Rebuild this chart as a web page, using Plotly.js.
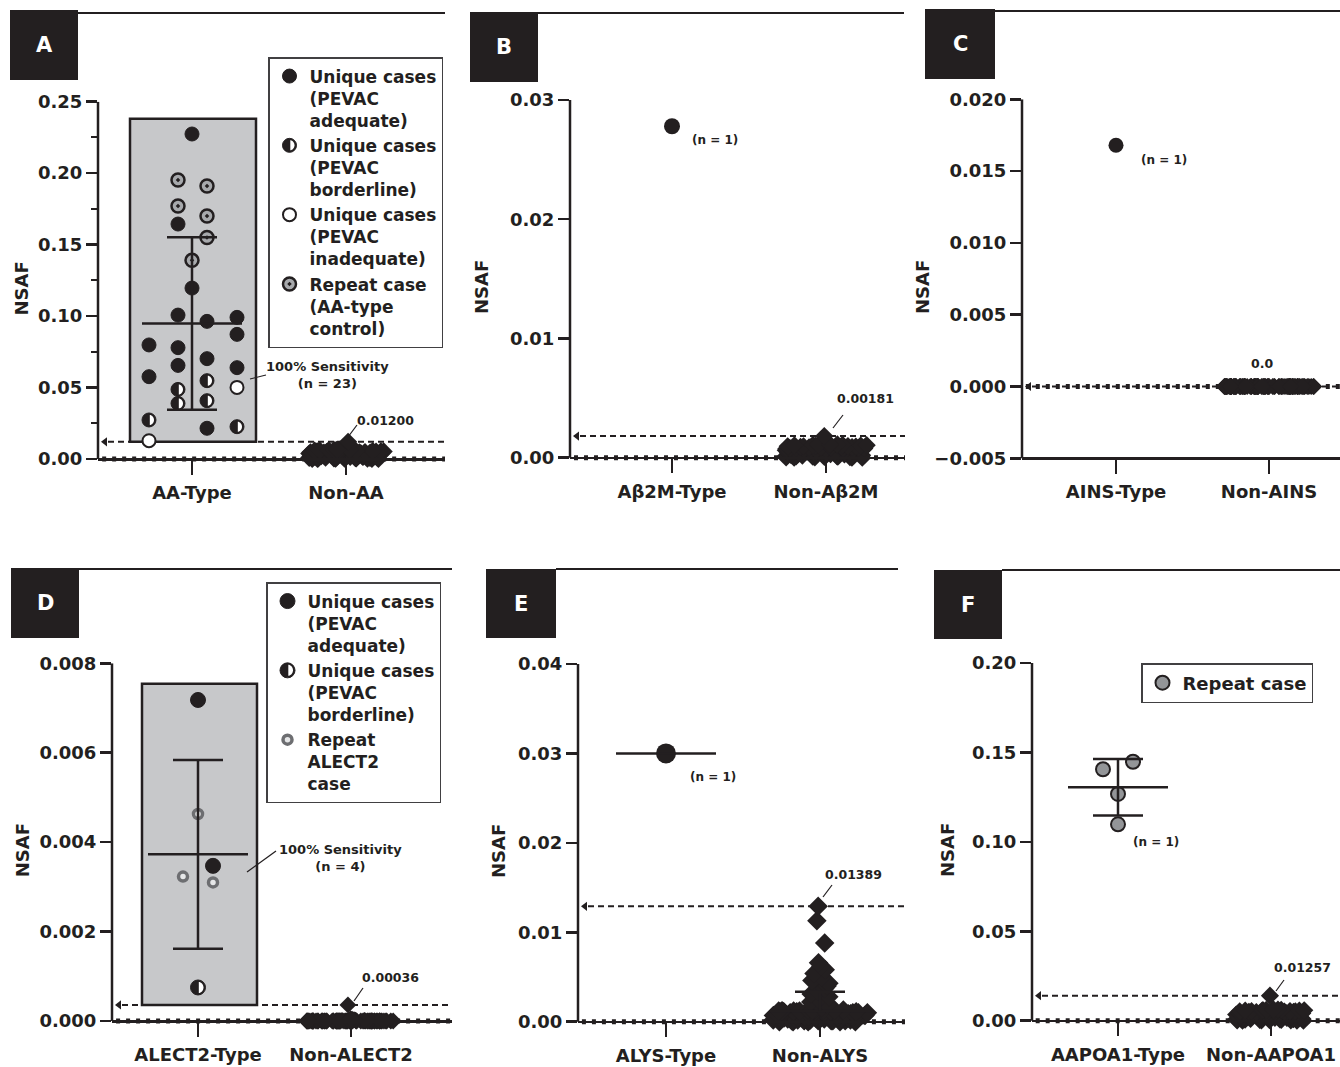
<!DOCTYPE html>
<html><head><meta charset="utf-8">
<script src="https://cdn.plot.ly/plotly-3.0.1.min.js"></script>
<style>html,body{margin:0;padding:0;background:#fff}#chart{width:1340px;height:1067px}</style>
</head><body><div id="chart"></div>
<script>
// ===================== DATA =====================
// Panel A
const catsA = ['AA-Type', 'Non-AA'];
const aaAdequate     = [0.2274,0.1644,0.1196,0.1007,0.0963,0.0991,0.0872,0.0798,0.0779,0.0702,0.0655,0.0639,0.0576,0.0215];
const aaAdequateSlot = [0,-1,0,-1,1,2,2,-2,-1,1,-1,2,-2,1];
const aaBorderline     = [0.0548,0.0487,0.0389,0.0408,0.0273,0.0226];
const aaBorderlineSlot = [1,-1,-1,1,-2,2];
const aaInadequate     = [0.0501,0.0128];
const aaInadequateSlot = [2,-2];
const aaRepeat     = [0.1952,0.1910,0.1770,0.1700,0.1550,0.1390];
const aaRepeatSlot = [-1,1,-1,1,1,0];
const nonAA = [0.0120,0.0066,0.0065,0.0064,0.0063,0.0062,0.0061,0.0060,0.0059,0.0058,0.0057,0.0056,0.0055,0.0055,0.0054,0.0053,0.0053,0.0052,0.0051,0.0050,0.0050,0.0049,0.0048,0.0047,0.0047,0.0046,0.0045,0.0044,0.0044,0.0043,0.0042,0.0041,0.0041,0.0040,0.0039,0.0038,0.0038,0.0037,0.0036,0.0035,0.0035,0.0034,0.0033,0.0032,0.0032,0.0031,0.0030,0.0029,0.0029,0.0028,0.0027,0.0026,0.0026,0.0025,0.0024,0.0023,0.0023,0.0022,0.0021,0.0020,0.0020,0.0019,0.0018,0.0017,0.0017,0.0016,0.0015,0.0014,0.0014,0.0013,0.0012,0.0011,0.0011,0.0010,0.0009,0.0008,0.0008,0.0007,0.0006,0.0005,0.0005,0.0004,0.0003,0.0002,0.0002,0.0001,0,0,0];
// Panel B
const catsB = ['A\u03b22M-Type', 'Non-A\u03b22M'];
const ab2mType = [0.0278];
const nonAb2m = [0.00181,0.00113,0.00111,0.00110,0.00108,0.00107,0.00105,0.00104,0.00102,0.00101,0.00099,0.00098,0.00096,0.00095,0.00093,0.00092,0.00090,0.00089,0.00087,0.00086,0.00084,0.00083,0.00081,0.00080,0.00078,0.00077,0.00075,0.00074,0.00072,0.00071,0.00069,0.00068,0.00066,0.00065,0.00063,0.00062,0.00060,0.00059,0.00057,0.00056,0.00054,0.00053,0.00051,0.00050,0.00048,0.00047,0.00045,0.00044,0.00042,0.00041,0.00039,0.00038,0.00036,0.00035,0.00033,0.00032,0.00030,0.00029,0.00027,0.00026,0.00024,0.00023,0.00021,0.00020,0.00018,0.00017,0.00015,0.00014,0.00012,0.00011,0.00009,0.00008,0.00006,0.00005,0.00003,0.00002,0,0,0];
// Panel C
const catsC = ['AINS-Type', 'Non-AINS'];
const ainsType = [0.0168];
const nonAins = [0,0,0,0,0,0,0,0,0,0,0,0,0,0,0,0,0,0,0,0,0,0,0,0,0,0,0,0,0,0,0,0,0,0,0,0,0,0,0,0,0,0,0,0,0,0,0,0,0,0,0,0,0,0,0,0,0,0,0,0,0,0,0,0,0,0,0,0,0,0,0,0,0,0,0,0,0,0,0,0,0,0,0,0,0,0,0,0,0,0];
// Panel D
const catsD = ['ALECT2-Type', 'Non-ALECT2'];
const alect2Adequate     = [0.00718,0.00347];
const alect2AdequateSlot = [0,1];
const alect2Borderline     = [0.00075];
const alect2BorderlineSlot = [0];
const alect2Repeat     = [0.00463,0.00323,0.00310];
const alect2RepeatSlot = [0,-1,1];
const nonAlect2 = [0.00036,0.00005,0.00004,0.00003,0.00002,0.00002,0.00001,0.00001,0,0,0,0,0,0,0,0,0,0,0,0,0,0,0,0,0,0,0,0,0,0,0,0,0,0,0,0,0,0,0,0,0,0,0,0,0,0,0,0,0,0,0,0,0,0,0,0,0,0,0,0,0,0,0,0,0,0,0,0,0,0,0,0,0,0,0,0,0,0,0,0];
// Panel E
const catsE = ['ALYS-Type', 'Non-ALYS'];
const alysType = [0.0300];
const nonAlys = [0.0129,0.0113,0.0088,0.0066,0.0062,0.0058,0.0054,0.0050,0.0046,0.0043,0.0040,0.0037,0.0034,0.0031,0.0028,0.0025,0.0022,0.0019,0.0016,
  0.0013,0.0013,0.0013,0.0013,0.0013,0.0013,0.0012,0.0012,0.0012,0.0012,0.0012,0.0012,0.0012,0.0011,0.0011,0.0011,0.0011,0.0011,0.0011,0.0011,
  0.0010,0.0010,0.0010,0.0010,0.0010,0.0010,0.0010,0.0009,0.0009,0.0009,0.0009,0.0009,0.0009,0.0009,0.0008,0.0008,0.0008,0.0008,0.0008,0.0008,0.0008,
  0.0007,0.0007,0.0007,0.0007,0.0007,0.0007,0.0007,0.0006,0.0006,0.0006,0.0006,0.0006,0.0006,0.0006,0.0005,0.0005,0.0005,0.0005,0.0005,0.0005,0.0005,
  0.0004,0.0004,0.0004,0.0004,0.0004,0.0004,0.0004,0.0003,0.0003,0.0003,0.0003,0.0003,0.0003,0.0003,0.0002,0.0002,0.0002,0.0002,0.0002,0.0002,0.0002,
  0.0001,0.0001,0.0001,0.0001,0.0001,0.0001,0.0001,0,0,0,0,0];
const nonAlysMean = 0.0012, nonAlysSD = 0.00215;
// Panel F
const catsF = ['AAPOA1-Type', 'Non-AAPOA1'];
const aapoa1Repeat     = [0.1406,0.1448,0.1268,0.1098];
const aapoa1RepeatSlot = [-1,1,0,0];
const nonAapoa1 = [0.0140,0.0063,0.0062,0.0061,0.0060,0.0059,0.0058,0.0057,0.0057,0.0056,0.0055,0.0054,0.0053,0.0052,0.0052,0.0051,0.0050,0.0049,0.0048,0.0047,0.0047,0.0046,0.0045,0.0044,0.0043,0.0042,0.0042,0.0041,0.0040,0.0039,0.0038,0.0037,0.0037,0.0036,0.0035,0.0034,0.0033,0.0032,0.0032,0.0031,0.0030,0.0029,0.0028,0.0027,0.0027,0.0026,0.0025,0.0024,0.0023,0.0022,0.0022,0.0021,0.0020,0.0019,0.0018,0.0017,0.0017,0.0016,0.0015,0.0014,0.0013,0.0012,0.0012,0.0011,0.0010,0.0009,0.0008,0.0007,0.0007,0.0006,0.0005,0.0004,0.0003,0.0002,0.0002,0.0001,0,0,0];
// Cut-offs (highest non-type value) and their labels
const cutoffValues = [0.0120,0.00181,0,0.00036,0.0129,0.0140];
const cutoffLabels = ['0.01200','0.00181','0.0','0.00036','0.01389','0.01257'];
const panelLetters = ['A','B','C','D','E','F'];

// ===================== LAYOUT GEOMETRY =====================
const W = 1340, H = 1067;
const FONT = 'DejaVu Sans, Verdana, sans-serif';
const INK = '#231f20';
const G = [
 {L:98,  R:445,  T:101.7, B:459,   ymin:0,      ymax:0.25,  dtick:0.05,  fmt:'.2f', minor:0.025, c0:192,  c1:346,  box:[10,10,78,80],    line:[78,445,13],   cats:catsA, so:4},
 {L:570, R:905,  T:100,   B:457.7, ymin:0,      ymax:0.03,  dtick:0.01,  fmt:'.2f', c0:672,  c1:826,  box:[470,12,538,82],  line:[538,904,13],  cats:catsB, so:16},
 {L:1022,R:1340, T:99.3,  B:458.3, ymin:-0.005, ymax:0.02,  dtick:0.005, fmt:'.3f', c0:1116, c1:1269, box:[925,9,995,79],   line:[995,1340,11], cats:catsC, so:0},
 {L:112, R:452,  T:663.3, B:1021,  ymin:0,      ymax:0.008, dtick:0.002, fmt:'.3f', c0:198,  c1:351,  box:[11,568,79,638],  line:[79,452,569],  cats:catsD, so:5},
 {L:578, R:905,  T:664,   B:1021.7,ymin:0,      ymax:0.04,  dtick:0.01,  fmt:'.2f', c0:666,  c1:820,  box:[486,569,556,638],line:[556,898,569], cats:catsE, so:7},
 {L:1032,R:1340, T:663,   B:1020.7,ymin:0,      ymax:0.2,   dtick:0.05,  fmt:'.2f', c0:1118, c1:1271, box:[934,570,1002,639],line:[1002,1340,570],cats:catsF, so:12}
];
const slotPxA = {'-2':-43,'-1':-14,'0':0,'1':15,'2':45};
const slotPx3 = {'-1':-15,'0':0,'1':15};
const blobSize = [14,14,13,13,15,14];
const blobWidthPx = [100,100,90,90,96,100];
const labelPos = [[385,420],[865,398],[1262,363],[390,977],[853,874],[1302,967]];
const pointerPx = [[348,437,357,425],[833,428,843,415],null,[354,1001,363,988],[823,897,832,885],[1276,991,1284,980]];
const nPos = [null,[715,140],[1164,160],null,[713,777],[1156,842]];

const traces = [], shapes = [], annotations = [];
const layout = {
  width: W, height: H, margin: {l:0,r:0,t:0,b:0},
  paper_bgcolor: '#fff', plot_bgcolor: 'rgba(0,0,0,0)',
  font: {family: FONT, size: 18, color: INK, weight: 'bold'},
  showlegend: true, hovermode: false
};
const n = i => (i === 0 ? '' : String(i + 1));
const px2x = p => p / W, px2y = p => 1 - p / H;

G.forEach((g, i) => {
  const s = n(i), span = g.c1 - g.c0, k = (g.B - g.T) / (g.ymax - g.ymin), ext = 16;
  g.span = span; g.k = k;
  g.r0 = (g.L - g.c0) / span; g.r1 = (g.R - g.c0) / span;
  layout['xaxis' + s] = {
    domain: [g.L / W, Math.min(1, g.R / W)], range: [g.r0, g.r1],
    anchor: 'free', position: 1 - g.B / H,
    showline: true, linewidth: 2.5, linecolor: INK,
    ticks: 'outside', ticklen: 14, tickwidth: 2.5, tickcolor: INK,
    tickvals: [0, 1], ticktext: g.cats, tickfont: {size: 18}, ticklabelstandoff: 3,
    showgrid: false, zeroline: false, fixedrange: true
  };
  const ya = {
    domain: [1 - (g.B + ext) / H, 1 - g.T / H], range: [g.ymin - ext / k, g.ymax],
    anchor: 'x' + s, showline: false,
    ticks: 'outside', ticklen: 11, tickwidth: 2.5, tickcolor: INK,
    tick0: 0, dtick: g.dtick, tickformat: g.fmt, tickfont: {size: 18},
    showgrid: false, zeroline: false, fixedrange: true,
    title: {text: 'NSAF', font: {size: 18}, standoff: g.so}
  };
  if (g.minor) ya.minor = {dtick: g.minor, tick0: 0, ticks: 'outside', ticklen: 6, tickwidth: 2, tickcolor: INK};
  layout['yaxis' + s] = ya;

  const xd = 'x' + s + ' domain', yr = 'y' + s;
  shapes.push({type:'line', xref:xd, yref:yr, x0:0, x1:0, y0:g.ymin, y1:g.ymax, line:{color:INK, width:2.5}, layer:'above'});
  shapes.push({type:'line', xref:xd, yref:yr, x0:0.012, x1:1, y0:0, y1:0, line:{color:INK, width:5, dash:'4px,6px'}, layer:'below'});
  shapes.push({type:'line', xref:xd, yref:yr, x0:10/(g.R-g.L), x1:1, y0:cutoffValues[i], y1:cutoffValues[i], line:{color:INK, width:2, dash:'6px,4px'}, layer:'below'});
  traces.push({type:'scatter', mode:'markers', xaxis:'x'+s, yaxis:'y'+s, x:[g.r0 + 7/span], y:[cutoffValues[i]],
    marker:{symbol:'triangle-left', size:8, color:INK}, cliponaxis:false, showlegend:false, hoverinfo:'skip'});
  shapes.push({type:'rect', xref:'paper', yref:'paper', x0:px2x(g.box[0]), x1:px2x(g.box[2]), y0:px2y(g.box[3]), y1:px2y(g.box[1]), fillcolor:INK, line:{width:0}, layer:'below'});
  annotations.push({xref:'paper', yref:'paper', x:px2x((g.box[0]+g.box[2])/2), y:px2y((g.box[1]+g.box[3])/2), text:panelLetters[i], showarrow:false, font:{size:21, color:'#fff'}, xanchor:'center', yanchor:'middle'});
  shapes.push({type:'line', xref:'paper', yref:'paper', x0:px2x(g.line[0]), x1:px2x(g.line[1]), y0:px2y(g.line[2]), y1:px2y(g.line[2]), line:{color:INK, width:2}});
  annotations.push({xref:'paper', yref:'paper', x:px2x(labelPos[i][0]), y:px2y(labelPos[i][1]), text:cutoffLabels[i], showarrow:false, font:{size:12.5}, xanchor:'center', yanchor:'middle'});
  if (pointerPx[i]) { const p = pointerPx[i];
    shapes.push({type:'line', xref:'paper', yref:'paper', x0:px2x(p[0]), y0:px2y(p[1]), x1:px2x(p[2]), y1:px2y(p[3]), line:{color:INK, width:1.2}}); }
  if (nPos[i]) annotations.push({xref:'paper', yref:'paper', x:px2x(nPos[i][0]), y:px2y(nPos[i][1]), text:'(n = 1)', showarrow:false, font:{size:12}, xanchor:'center', yanchor:'middle'});
});

// blobs of non-type cases (beeswarm via box points)
[nonAA, nonAb2m, nonAins, nonAlect2, nonAlys, nonAapoa1].forEach((vals, i) => {
  const s = n(i), g = G[i];
  traces.push({type:'box', xaxis:'x'+s, yaxis:'y'+s, x0:1, y:vals, width:blobWidthPx[i]/g.span,
    boxpoints:'all', jitter:1, pointpos:0, line:{width:0}, fillcolor:'rgba(0,0,0,0)', whiskerwidth:0,
    marker:{symbol:'diamond', size:blobSize[i], color:INK, line:{width:0}}, showlegend:false, hoverinfo:'skip'});
});

function grayBox(i, pxL, pxR, top) {
  const s = n(i), g = G[i];
  shapes.push({type:'rect', xref:'x'+s, yref:'y'+s, x0:pxL/g.span, x1:pxR/g.span, y0:cutoffValues[i], y1:top,
    fillcolor:'#c7c8ca', line:{color:INK, width:2.5}, layer:'below'});
}
grayBox(0, -62, 64, 0.238);
grayBox(3, -56, 59, 0.00754);

const MK = {
  filled: {symbol:'circle', size:14, color:INK, line:{color:INK, width:1}},
  open:   {symbol:'circle', size:13, color:'#fff', line:{color:INK, width:2}},
  repA:   {symbol:'circle-dot', size:13, color:'#a7a9ac', line:{color:INK, width:2.5}},
  repD:   {symbol:'circle', size:9, color:'#e6e7e8', line:{color:'#6d6e71', width:3.5}},
  repF:   {symbol:'circle', size:14, color:'#939598', line:{color:INK, width:2}}
};
function pts(i, vals, slots, slotMap, marker, name, legend, meta) {
  const s = n(i), g = G[i];
  const t = {type:'scatter', mode:'markers', xaxis:'x'+s, yaxis:'y'+s,
    x: slots.map(v => slotMap[String(v)] / g.span), y: vals, marker: marker,
    cliponaxis:false, hoverinfo:'skip', showlegend: !!name};
  if (name) { t.name = name; t.legend = legend; }
  if (meta) t.meta = meta;
  traces.push(t);
}
pts(0, aaAdequate, aaAdequateSlot, slotPxA, MK.filled, 'Unique cases<br>(PEVAC<br>adequate)', 'legend');
pts(0, aaBorderline, aaBorderlineSlot, slotPxA, MK.filled, 'Unique cases<br>(PEVAC<br>borderline)', 'legend', 'half');
pts(0, aaInadequate, aaInadequateSlot, slotPxA, MK.open, 'Unique cases<br>(PEVAC<br>inadequate)', 'legend');
pts(0, aaRepeat, aaRepeatSlot, slotPxA, MK.repA, 'Repeat case<br>(AA-type<br>control)', 'legend');
pts(1, ab2mType, [0], slotPx3, {symbol:'circle', size:16, color:INK});
pts(2, ainsType, [0], slotPx3, {symbol:'circle', size:15, color:INK});
pts(3, alect2Adequate, alect2AdequateSlot, slotPx3, {symbol:'circle', size:15, color:INK, line:{color:INK,width:1}}, 'Unique cases<br>(PEVAC<br>adequate)', 'legend2');
pts(3, alect2Borderline, alect2BorderlineSlot, slotPx3, {symbol:'circle', size:15, color:INK, line:{color:INK,width:1}}, 'Unique cases<br>(PEVAC<br>borderline)', 'legend2', 'half');
pts(3, alect2Repeat, alect2RepeatSlot, slotPx3, MK.repD, 'Repeat<br>ALECT2<br>case', 'legend2');
pts(4, alysType, [0], slotPx3, {symbol:'circle', size:20, color:INK});
pts(5, aapoa1Repeat, aapoa1RepeatSlot, slotPx3, MK.repF, 'Repeat case', 'legend3');

function meanSd(vals) {
  const m = vals.reduce((a, b) => a + b, 0) / vals.length;
  const sd = vals.length > 1 ? Math.sqrt(vals.reduce((a, b) => a + (b - m) * (b - m), 0) / (vals.length - 1)) : null;
  return {m, sd};
}
function errBars(i, pos, m, sd, upperOnly) {
  const s = n(i), g = G[i], hm = 50 / g.span, hc = 25 / g.span;
  const x = [pos - hm, pos + hm], y = [m, m];
  if (sd !== null) {
    x.push(null, pos, pos, null, pos - hc, pos + hc);
    y.push(null, upperOnly ? m : m - sd, m + sd, null, m + sd, m + sd);
    if (!upperOnly) { x.push(null, pos - hc, pos + hc); y.push(null, m - sd, m - sd); }
  }
  traces.push({type:'scatter', mode:'lines', xaxis:'x'+s, yaxis:'y'+s, x, y, line:{color:INK, width:2.5},
    cliponaxis:false, showlegend:false, hoverinfo:'skip', connectgaps:false});
}
let st;
st = meanSd([...aaAdequate, ...aaBorderline, ...aaInadequate, ...aaRepeat]); errBars(0, 0, st.m, st.sd);
st = meanSd([...alect2Adequate, ...alect2Borderline, ...alect2Repeat]); errBars(3, 0, st.m, st.sd);
st = meanSd(alysType); errBars(4, 0, st.m, st.sd);
errBars(4, 1, nonAlysMean, nonAlysSD, true);
st = meanSd(aapoa1Repeat); errBars(5, 0, st.m, st.sd);

annotations.push({xref:'paper', yref:'paper', x:px2x(327), y:px2y(374.5), text:'100% Sensitivity<br>(n = 23)', showarrow:false, font:{size:13}, xanchor:'center', yanchor:'middle', align:'center'});
shapes.push({type:'line', xref:'paper', yref:'paper', x0:px2x(250), y0:px2y(379), x1:px2x(266), y1:px2y(375), line:{color:INK, width:1.2}});
annotations.push({xref:'paper', yref:'paper', x:px2x(340), y:px2y(858), text:'100% Sensitivity<br>(n = 4)', showarrow:false, font:{size:13}, xanchor:'center', yanchor:'middle', align:'center'});
shapes.push({type:'line', xref:'paper', yref:'paper', x0:px2x(247), y0:px2y(872), x1:px2x(276), y1:px2y(851), line:{color:INK, width:1.2}});

const legendBase = {bgcolor:'#fff', bordercolor:'#414042', borderwidth:1.5,
  font:{family:FONT, size:17, color:INK, weight:'bold'}, valign:'top', xanchor:'left', yanchor:'top',
  itemclick:false, itemdoubleclick:false, tracegroupgap:0};
layout.legend  = Object.assign({}, legendBase, {x:px2x(268),  y:px2y(57)});
layout.legend2 = Object.assign({}, legendBase, {x:px2x(266),  y:px2y(582)});
layout.legend3 = Object.assign({}, legendBase, {x:px2x(1141), y:px2y(663), font:{family:FONT, size:18, color:INK, weight:'bold'}});
layout.shapes = shapes;
layout.annotations = annotations;

Plotly.newPlot('chart', traces, layout, {staticPlot:true, displayModeBar:false}).then(gd => {
  const NS = 'http://www.w3.org/2000/svg';
  function half(r) { const c = 0.5523 * r;
    return 'M0.8,' + (-r) + 'C' + c + ',' + (-r) + ' ' + r + ',' + (-c) + ' ' + r + ',0C' + r + ',' + c + ' ' + c + ',' + r + ' 0.8,' + r + 'Z'; }
  function addHalf(p, r) {
    const h = document.createElementNS(NS, 'path');
    h.setAttribute('d', half(r));
    const tr = p.getAttribute('transform'); if (tr) h.setAttribute('transform', tr);
    h.setAttribute('style', 'fill:#fff;stroke:none;');
    p.parentNode.appendChild(h);
  }
  gd.querySelectorAll('.scatterlayer .trace').forEach(tr => {
    const cd = tr.__data__; if (!cd || !cd[0] || !cd[0].trace || cd[0].trace.meta !== 'half') return;
    tr.querySelectorAll('path.point').forEach(p => addHalf(p, cd[0].trace.marker.size / 2 - 2));
  });
  gd.querySelectorAll('g.traces').forEach(tr => {
    const d = tr.__data__; if (!d || !d[0] || !d[0].trace || d[0].trace.meta !== 'half') return;
    tr.querySelectorAll('path.scatterpts').forEach(p => addHalf(p, d[0].trace.marker.size / 2 - 2));
  });
});
</script>
</body></html>
